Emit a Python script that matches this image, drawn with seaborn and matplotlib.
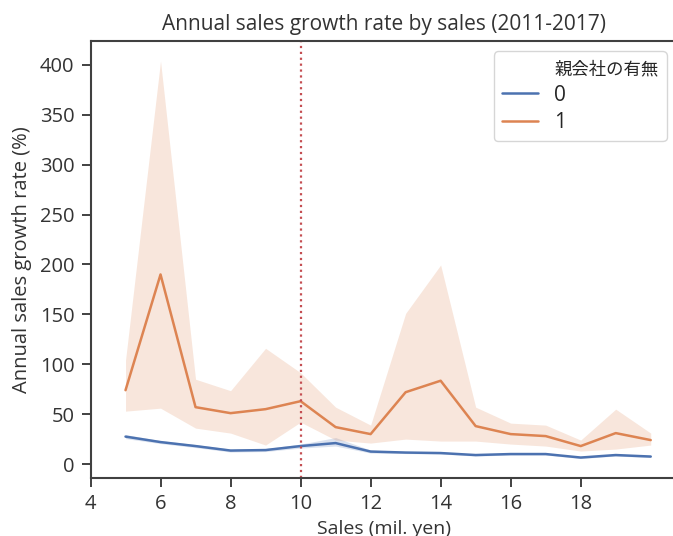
import numpy as np
import pandas as pd
import matplotlib
matplotlib.use("Agg")
import matplotlib.pyplot as plt
from matplotlib.lines import Line2D
import seaborn as sns

# data
sales = [5, 6, 7, 8, 9, 10, 11, 12, 13, 14, 15, 16, 17, 18, 19, 20]
growth_0 = [27.5, 22, 18, 13.5, 14, 18, 21, 12.5, 11.5, 11, 9, 10, 10, 6.5, 9, 7.5]
ci0_low = [25.5, 20.5, 16.5, 12, 12.5, 16, 18, 11, 10.5, 10, 8, 9, 9, 5.5, 8, 6.5]
ci0_high = [29.5, 23.5, 19.5, 15, 15.5, 20, 26.5, 14, 12.5, 12, 10, 11, 11, 7.5, 10, 8.5]
growth_1 = [74, 190, 57, 51, 55, 63, 37, 30, 72, 83.5, 38, 30, 28, 18, 31, 24]
ci1_low = [53, 56, 36, 31, 19, 42, 24, 21, 25, 23, 23, 20, 18, 13, 15, 19]
ci1_high = [104, 404, 85, 73.5, 116, 91.5, 57, 39, 151, 199.5, 57, 41, 39, 24, 55, 31]
hue_levels = ["0", "1"]
threshold = 10
xticks = [4, 6, 8, 10, 12, 14, 16, 18]
yticks = [0, 50, 100, 150, 200, 250, 300, 350, 400]

df = pd.DataFrame({
    "Sales": sales * 2,
    "growth": growth_0 + growth_1,
    "親会社の有無": [hue_levels[0]] * len(sales) + [hue_levels[1]] * len(sales),
})

sns.set_theme(style="ticks", palette="deep")
plt.rcParams["font.family"] = ["Open Sans", "Noto Sans CJK JP", "DejaVu Sans"]

fig = plt.figure(figsize=(6.73, 5.36), dpi=100)
ax = fig.add_axes([90.5 / 673, 58 / 536, (677 - 90.5) / 673, 437 / 536])

pal = sns.color_palette("deep")
sns.lineplot(data=df, x="Sales", y="growth", hue="親会社の有無", palette=pal[:2],
             errorbar=None, linewidth=1.8, ax=ax, legend=False)
ax.fill_between(sales, ci0_low, ci0_high, color=pal[0], alpha=0.2, linewidth=0)
ax.fill_between(sales, ci1_low, ci1_high, color=pal[1], alpha=0.2, linewidth=0)
ax.axvline(threshold, color=pal[3], linestyle=":", linewidth=1.6)

ax.set_xlim(4, 20.75)
ax.set_ylim(-14, 424)
ax.set_xticks(xticks)
ax.set_yticks(yticks)
ax.tick_params(labelsize=14.5, length=6.5, width=1.3, pad=5, colors="0.2")
for s in ax.spines.values():
    s.set_linewidth(1.5)
    s.set_color("0.25")
ax.set_title("Annual sales growth rate by sales (2011-2017)", fontsize=15, color="0.2", pad=8)
ax.set_xlabel("Sales (mil. yen)", fontsize=14, color="0.2", labelpad=4)
ax.set_ylabel("Annual sales growth rate (%)", fontsize=14.5, color="0.2", labelpad=6)

handles = [Line2D([], [], linestyle="none"),
           Line2D([], [], color=pal[0], linewidth=1.8),
           Line2D([], [], color=pal[1], linewidth=1.8)]
labels = ["親会社の有無"] + hue_levels
leg = ax.legend(handles, labels, loc="upper right", fontsize=15, frameon=True,
                handlelength=1.75, handletextpad=0.75, labelspacing=0.3, borderpad=0.4)
leg.texts[0].set_fontsize(12.5)

fig.savefig("out.png", dpi=100)
